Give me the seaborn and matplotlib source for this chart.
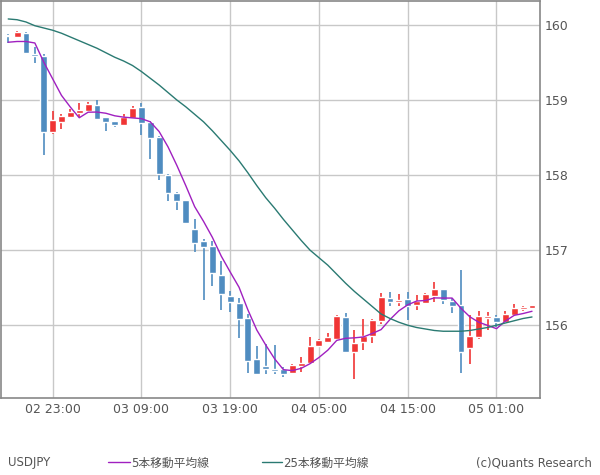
import numpy as np
import pandas as pd
import seaborn as sns
import matplotlib.pyplot as plt
from matplotlib.lines import Line2D

# hourly candles, 02 18:00 -> 05 05:00
opens = [159.87, 159.84, 159.89, 159.61, 159.59, 158.58, 158.71, 158.78, 158.83, 158.86,
         158.94, 158.77, 158.72, 158.67, 158.76, 158.91, 158.71, 158.51, 158.00, 157.76,
         157.67, 157.28, 157.12, 157.06, 156.67, 156.39, 156.30, 156.09, 155.55, 155.46,
         155.42, 155.42, 155.37, 155.46, 155.50, 155.73, 155.78, 155.81, 156.11, 155.64,
         155.78, 155.85, 156.06, 156.36, 156.31, 156.35, 156.27, 156.30, 156.39, 156.48,
         156.32, 156.27, 155.70, 155.84, 156.10, 156.11, 156.04, 156.13, 156.22, 156.23]
closes = [159.85, 159.90, 159.62, 159.58, 158.58, 158.74, 158.79, 158.84, 158.87, 158.95,
          158.75, 158.71, 158.67, 158.78, 158.90, 158.70, 158.50, 158.02, 157.76, 157.66,
          157.36, 157.10, 157.04, 156.69, 156.41, 156.31, 156.08, 155.53, 155.35, 155.42,
          155.39, 155.35, 155.47, 155.50, 155.73, 155.80, 155.84, 156.12, 155.64, 155.76,
          155.86, 156.07, 156.38, 156.31, 156.34, 156.26, 156.32, 156.42, 156.48, 156.33,
          156.26, 155.64, 155.85, 156.12, 156.12, 156.04, 156.15, 156.23, 156.24, 156.27]
highs = [159.88, 159.92, 159.91, 159.70, 159.61, 158.86, 158.82, 158.88, 158.96, 158.98,
         159.00, 158.78, 158.72, 158.81, 158.92, 158.96, 158.72, 158.52, 158.02, 157.78,
         157.67, 157.41, 157.15, 157.12, 156.85, 156.46, 156.36, 156.15, 155.73, 155.75,
         155.74, 155.45, 155.49, 155.58, 155.84, 155.81, 155.89, 156.14, 156.16, 155.94,
         156.08, 156.08, 156.43, 156.44, 156.42, 156.44, 156.40, 156.43, 156.58, 156.48,
         156.36, 156.73, 156.13, 156.19, 156.17, 156.14, 156.19, 156.28, 156.26, 156.27]
lows = [159.76, 159.83, 159.62, 159.50, 158.27, 158.55, 158.61, 158.78, 158.77, 158.86,
        158.75, 158.59, 158.64, 158.67, 158.76, 158.54, 158.22, 157.94, 157.66, 157.53,
        157.36, 156.98, 156.33, 156.52, 156.20, 156.17, 155.83, 155.37, 155.35, 155.35,
        155.35, 155.31, 155.35, 155.38, 155.50, 155.72, 155.78, 155.81, 155.64, 155.29,
        155.67, 155.77, 156.02, 156.25, 156.26, 156.07, 156.20, 156.29, 156.31, 156.28,
        156.16, 155.36, 155.49, 155.81, 155.94, 155.97, 156.03, 156.12, 156.19, 156.22]
prior_closes = [159.85, 159.62, 159.68, 159.85]  # before the first visible candle
ma25 = [160.08, 160.07, 160.04, 159.99, 159.96, 159.93, 159.89, 159.84, 159.79, 159.74,
        159.69, 159.63, 159.57, 159.52, 159.46, 159.38, 159.29, 159.20, 159.10, 159.00,
        158.91, 158.81, 158.71, 158.59, 158.46, 158.33, 158.19, 158.03, 157.86, 157.70,
        157.56, 157.41, 157.27, 157.13, 157.00, 156.90, 156.80, 156.68, 156.56, 156.45,
        156.35, 156.25, 156.15, 156.09, 156.04, 156.00, 155.97, 155.95, 155.93, 155.92,
        155.92, 155.92, 155.93, 155.95, 155.97, 156.00, 156.03, 156.06, 156.09, 156.11]
tick_pos = [5, 15, 25, 35, 45, 55]
tick_labels = ["02 23:00", "03 09:00", "03 19:00", "04 05:00", "04 15:00", "05 01:00"]

df = pd.DataFrame({"open": opens, "close": closes, "high": highs, "low": lows, "ma25": ma25})
df["i"] = np.arange(len(df))
df["ma5"] = pd.Series(prior_closes + closes).rolling(5).mean().iloc[4:].values

sns.set_style("white")
plt.rcParams["font.family"] = ["DejaVu Sans", "Noto Sans CJK JP"]

fig = plt.figure(figsize=(6, 4.75), dpi=100)
ax = fig.add_axes([0.002, 0.162, 0.898, 0.836])

up_c, dn_c = "#f03535", "#4f8cc0"
colors = [up_c if c >= o else dn_c for o, c in zip(df.open, df.close)]
ax.vlines(df.i, df.low, df.high, colors=colors, linewidth=1.2, zorder=2)
bottoms = np.minimum(df.open, df.close)
heights = np.maximum(np.abs(df.close - df.open), 0.02)
ax.bar(df.i, heights, bottom=bottoms, width=0.78, color=colors, zorder=3)

sns.lineplot(data=df, x="i", y="ma5", ax=ax, color="#a020c0", linewidth=1, zorder=4)
sns.lineplot(data=df, x="i", y="ma25", ax=ax, color="#2a7a72", linewidth=1, zorder=4)

ax.set_xlim(-0.79, 59.9)
ax.set_ylim(155.03, 160.32)
ax.set_xticks(tick_pos)
ax.set_xticklabels(tick_labels)
ax.set_yticks([156, 157, 158, 159, 160])
ax.yaxis.tick_right()
ax.set_xlabel("")
ax.set_ylabel("")
ax.grid(True, color="#c8c8c8", linewidth=1)
ax.tick_params(colors="#555555", labelsize=9, length=0)
for s in ax.spines.values():
    s.set_color("#888888")
    s.set_linewidth(1.2)

fig.text(0.013, 0.018, "USDJPY", fontsize=8.5, color="#555555")
fig.add_artist(Line2D([0.18, 0.217], [0.027, 0.027], color="#a020c0", linewidth=1))
fig.text(0.218, 0.018, "5本移動平均線", fontsize=8.5, color="#555555")
fig.add_artist(Line2D([0.437, 0.47], [0.027, 0.027], color="#2a7a72", linewidth=1))
fig.text(0.472, 0.018, "25本移動平均線", fontsize=8.5, color="#555555")
fig.text(0.987, 0.018, "(c)Quants Research", fontsize=8.5, color="#555555", ha="right")

fig.savefig("out.png", dpi=100, facecolor="white")
